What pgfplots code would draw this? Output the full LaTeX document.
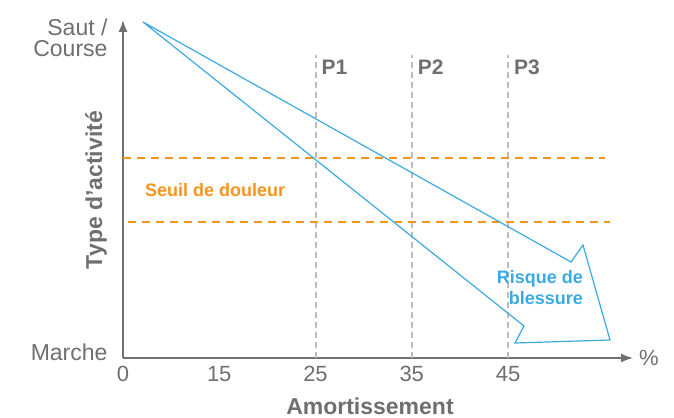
\documentclass[border=0pt]{standalone}
\usepackage{pgfplots}
\pgfplotsset{compat=1.18}
\usepackage{fontspec}
\setmainfont{Liberation Sans}
\usetikzlibrary{arrows.meta}
\definecolor{axgray}{HTML}{707070}
\definecolor{txtgray}{HTML}{6F6F6F}
\definecolor{dgray}{HTML}{BDBDBD}
\definecolor{orng}{HTML}{F7941D}
\definecolor{blu}{HTML}{3AAAE0}
\begin{document}
\begin{tikzpicture}
\begin{axis}[
  scale only axis, width=510bp, height=338bp,
  xmin=0, xmax=5.2987, ymin=0, ymax=338,
  axis lines=left,
  axis line style={draw=axgray, line width=1.5bp},
  x axis line style={-{Latex[length=12bp,width=9bp]}},
  y axis line style={-{Latex[length=12bp,width=9bp]}},
  xtick={0,1,2,3,4}, xticklabels={0,15,25,35,45},
  ytick={6,320}, yticklabels={Marche,{Saut /\\Course}},
  major tick length=0,
  xticklabel style={text=txtgray, font=\fontsize{22bp}{22bp}\selectfont, yshift=-5bp},
  yticklabel style={text=txtgray, align=right, font=\fontsize{23bp}{21bp}\selectfont, xshift=-12bp},
  /pgf/number format/assume math mode=true,
  xlabel={Amortissement},
  xlabel style={at={(axis cs:2.566,0)}, anchor=center, yshift=-48bp, text=txtgray, font=\fontsize{23bp}{24bp}\selectfont\bfseries},
  ylabel={Type d'activité},
  ylabel style={at={([xshift=-27bp]axis cs:0,168)}, anchor=center, text=txtgray, font=\fontsize{23bp}{24bp}\selectfont\bfseries},
  clip=false,
]
\addplot[dgray, line width=2bp, dash pattern=on 6bp off 4bp] coordinates {(2,0) (2,303)};
\addplot[dgray, line width=2bp, dash pattern=on 6bp off 4bp] coordinates {(3,0) (3,303)};
\addplot[dgray, line width=2bp, dash pattern=on 6bp off 4bp] coordinates {(4,0) (4,303)};
\addplot[orng, line width=2bp, dash pattern=on 8bp off 6bp] coordinates {(0,200) (5.01,200)};
\addplot[orng, line width=2bp, dash pattern=on 8bp off 6bp] coordinates {(0.05,136) (5.06,136)};
\addplot[blu, line width=1.2bp] coordinates {(0.208,336) (4.655,96) (4.779,113) (5.060,18) (4.073,15) (4.166,32)} -- cycle;
\node[anchor=west, inner sep=0, xshift=6bp, text=txtgray, font=\fontsize{21bp}{22bp}\selectfont\bfseries] at (axis cs:2,291) {P1};
\node[anchor=west, inner sep=0, xshift=6bp, text=txtgray, font=\fontsize{21bp}{22bp}\selectfont\bfseries] at (axis cs:3,291) {P2};
\node[anchor=west, inner sep=0, xshift=6bp, text=txtgray, font=\fontsize{21bp}{22bp}\selectfont\bfseries] at (axis cs:4,291) {P3};
\node[text=orng, font=\fontsize{18bp}{20bp}\selectfont\bfseries] at (axis cs:0.956,168) {Seuil de douleur};
\node[anchor=east, align=right, inner sep=0, text=blu, font=\fontsize{18bp}{21bp}\selectfont\bfseries] at (axis cs:4.78,70) {Risque de\\blessure};
\node[anchor=west, inner sep=0, xshift=6bp, text=txtgray, font=\fontsize{22bp}{22bp}\selectfont] at (rel axis cs:1,0) {\%};
\end{axis}
\pgfresetboundingbox
\path ([shift={(-123bp,-60bp)}]current axis.south west) rectangle ++(674bp,418bp);
\end{tikzpicture}
\end{document}
